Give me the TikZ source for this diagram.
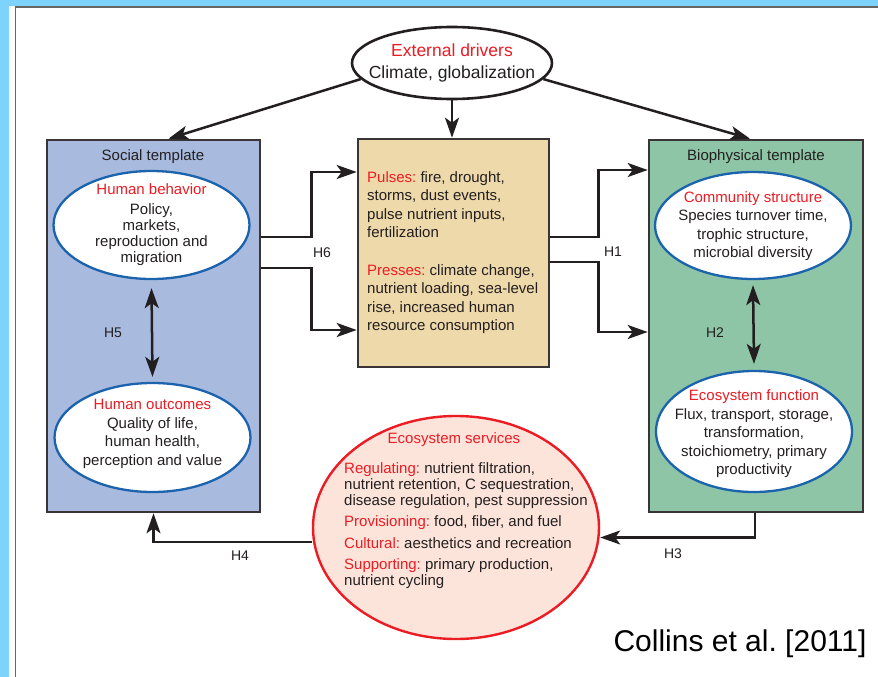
\documentclass[tikz,border=0pt]{standalone}
\usepackage{fontspec}
\setmainfont{Liberation Sans}
\usetikzlibrary{shapes.geometric, arrows.meta}
\frenchspacing

\definecolor{frameblue}{HTML}{7DD3FB}
\definecolor{hred}{HTML}{EC1C24}
\definecolor{ink}{HTML}{231F20}
\definecolor{socialfill}{HTML}{A9BADF}
\definecolor{disturbfill}{HTML}{EED9AA}
\definecolor{biofill}{HTML}{8EC5A6}
\definecolor{ovalblue}{HTML}{1B63AD}
\definecolor{servfill}{HTML}{FCE4DA}

\newcommand{\hd}[1]{\textcolor{hred}{#1}}

\tikzset{
	template/.style={rectangle, draw=ink!90, line width=2.6pt, inner sep=0pt},
	oval/.style={ellipse, draw=ovalblue, line width=2.3pt, fill=white, minimum width=196pt, inner sep=0pt},
	txt/.style={text=ink, font=\fontsize{15}{18.5}\selectfont, align=center, inner sep=0pt},
	conn/.style={draw=ink, line width=2.5pt, ->},
	dbl/.style={draw=ink, line width=2.5pt, <->},
	hlab/.style={text=ink, font=\fontsize{14}{16}\selectfont, inner sep=0pt}
}

\begin{document}
\begin{tikzpicture}[x=1pt, y=-1pt, >={Stealth[length=20pt, width=14pt, inset=5pt]}]
	\useasboundingbox (0,0) rectangle (878,677);
	% frame
	\fill[frameblue] (0,0) rectangle (878,677);
	\fill[white] (9,6) rectangle (878,677);
	\draw[gray!80!black, line width=1.3pt] (15.6,677) -- (15.6,7) -- (878,7);

	% drivers
	\node[ellipse, draw=ink, line width=2.6pt, fill=white, minimum width=200pt, minimum height=72pt, inner sep=0pt] (drivers) at (452,63) {};
	\node[txt, font=\fontsize{17.5}{22}\selectfont] (driverstxt) at (drivers.center) {\hd{External drivers}\\Climate, globalization};

	% social template
	\node[template, fill=socialfill, minimum width=213pt, minimum height=372pt] (social) at (153.5,326) {};
	\node[txt] (socialtitle) at (153,157) {Social template};
	\node[oval, minimum height=108pt] (behavior) at (151.5,225) {};
	\node[txt, font=\fontsize{15}{16}\selectfont] (behaviortxt) at (151.5,224.5) {\hd{Human behavior}\\[4pt]Policy,\\markets,\\reproduction and\\migration};
	\node[oval, minimum height=109pt] (outcomes) at (152.5,437.5) {};
	\node[txt] (outcomestxt) at (152.5,434) {\hd{Human outcomes}\\Quality of life,\\human health,\\perception and value};

	% pulses and presses
	\node[template, fill=disturbfill, minimum width=191pt, minimum height=228pt] (disturb) at (453.5,253) {};
	\node[txt, align=left, anchor=north west] (pulsestxt) at (367,171) {\hd{Pulses:} fire, drought,\\storms, dust events,\\pulse nutrient inputs,\\fertilization};
	\node[txt, align=left, anchor=north west] (pressestxt) at (367,264) {\hd{Presses:} climate change,\\nutrient loading, sea-level\\rise, increased human\\resource consumption};

	% biophysical template
	\node[template, fill=biofill, minimum width=214pt, minimum height=372pt] (bio) at (756,326) {};
	\node[txt] (biotitle) at (756,157) {Biophysical template};
	\node[oval, minimum height=107pt] (community) at (753,225.5) {};
	\node[txt] (communitytxt) at (753,226) {\hd{Community structure}\\Species turnover time,\\trophic structure,\\microbial diversity};
	\node[oval, minimum height=121pt] (function) at (754,431.5) {};
	\node[txt] (functiontxt) at (754,434) {\hd{Ecosystem function}\\Flux, transport, storage,\\transformation,\\stoichiometry, primary\\productivity};

	% services
	\node[ellipse, draw=hred, line width=2.4pt, fill=servfill, minimum width=286pt, minimum height=223pt, inner sep=0pt] (services) at (456,527.5) {};
	\node[txt, text=hred] (servicestitle) at (454,440) {Ecosystem services};
	\node[txt, align=left, anchor=north west, font=\fontsize{15}{16.3}\selectfont] (servicestxt) at (344,462) {\hd{Regulating:} nutrient filtration,\\nutrient retention, C sequestration,\\disease regulation, pest suppression\\[5pt]\hd{Provisioning:} food, fiber, and fuel\\[5pt]\hd{Cultural:} aesthetics and recreation\\[5pt]\hd{Supporting:} primary production,\\nutrient cycling};

	\node[font=\fontsize{30}{34}\selectfont, text=black, inner sep=0pt] (cite) at (740,644) {Collins et al. [2011]};

	% connectors
	\draw[conn] (drivers.190) -- ([xshift=15pt]social.north);
	\draw[conn] (drivers.south) -- (drivers.south |- disturb.north);
	\draw[conn] (drivers.-10) -- ([xshift=-6pt]bio.north);
	\draw[conn] ([yshift=89pt]social.east) -- ++(50,0) |- ([yshift=81pt]disturb.west);
	\draw[conn] ([yshift=58pt]social.east) -- ++(50,0) |- ([yshift=-77pt]disturb.west);
	\draw[conn] ([yshift=16pt]disturb.east) -- ++(48,0) |- ([yshift=156pt]bio.west);
	\draw[conn] ([yshift=-9pt]disturb.east) -- ++(48,0) |- ([yshift=-6pt]bio.west);
	\draw[dbl] ([yshift=-8pt]behavior.south) -- ([yshift=5pt]outcomes.north);
	\draw[dbl] ([yshift=-5pt]community.south) -- ([yshift=6pt]function.north);
	\draw[conn] ([xshift=-1pt]bio.south) |- ([yshift=-10pt]services.east);
	\draw[conn] ([yshift=-14.5pt]services.west) -| (social.south);

	\node[hlab] (h1) at (613,252) {H1};
	\node[hlab] (h2) at (715,333) {H2};
	\node[hlab] (h3) at (673,554) {H3};
	\node[hlab] (h4) at (240,556) {H4};
	\node[hlab] (h5) at (113,333) {H5};
	\node[hlab] (h6) at (322,253) {H6};
\end{tikzpicture}
\end{document}
